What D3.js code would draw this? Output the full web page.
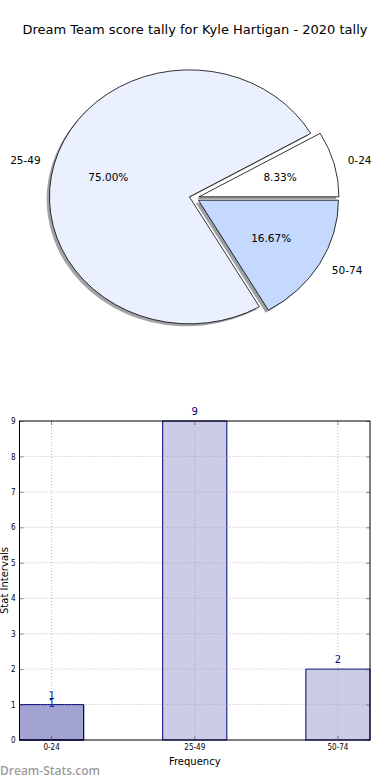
<!DOCTYPE html>
<meta charset="utf-8">
<style>
    body { margin: 0; background: #fff; }
    text { font-family: "DejaVu Sans", sans-serif; fill: #000; }
    .grid line { stroke: #a0a0a0; stroke-width: 0.7; stroke-dasharray: 1,2; }
    .axis text { font-size: 8px; font-family: "DejaVu Sans Condensed", "DejaVu Sans", sans-serif; }
    .axis line { stroke: #444; stroke-width: 0.6; }
    .axis path { display: none; }
</style>
<svg id="chart" width="390" height="780"></svg>
<script src="https://d3js.org/d3.v7.min.js"></script>
<script>

    var titleText = "Dream Team score tally for Kyle Hartigan - 2020 tally";
    var categories = ["0-24", "25-49", "50-74"];
    var counts = [1, 9, 2];
    var sliceColors = ["#ffffff", "#eaf0fe", "#c5d9fe"];
    // the first bar is drawn a second time in the original
    var overlayCategories = ["0-24"];
    var overlayCounts = [1];
    var yTicks = [0, 1, 2, 3, 4, 5, 6, 7, 8, 9];

    var svg = d3.select("#chart");

    svg.append("text")
        .attr("x", 195).attr("y", 34)
        .attr("text-anchor", "middle")
        .style("font-size", "13px")
        .text(titleText);

    // ---- pie ----
    var cx = 194.2, cy = 198, rx = 140, ry = 127, ex = 0.035;

    var pie = d3.pie().sort(null)
        .startAngle(Math.PI / 2)
        .endAngle(Math.PI / 2 - 2 * Math.PI);
    var arcs = pie(counts);
    var total = d3.sum(counts);
    var arcGen = d3.arc().innerRadius(0).outerRadius(1);

    arcs.forEach(function(d, i) {
        var a = (d.startAngle + d.endAngle) / 2;
        d.mx = Math.sin(a);
        d.my = -Math.cos(a);
        d.ox = cx + d.mx * ex * rx;
        d.oy = cy + d.my * ex * ry;
        d.color = sliceColors[i];
        d.label = categories[i];
    });

    var pieG = svg.append("g");

    pieG.selectAll("path.shadow")
        .data(arcs)
        .enter().append("path")
        .attr("class", "shadow")
        .attr("transform", function(d) {
            return "translate(" + (d.ox - 2.8) + "," + (d.oy + 2.5) + ") scale(" + rx + "," + ry + ")";
        })
        .attr("d", arcGen)
        .attr("fill", function(d) {
            var c = d3.rgb(d.color);
            return d3.rgb(c.r * 0.3, c.g * 0.3, c.b * 0.3);
        })
        .attr("fill-opacity", 0.5);

    pieG.selectAll("path.wedge")
        .data(arcs)
        .enter().append("path")
        .attr("class", "wedge")
        .attr("transform", function(d) {
            return "translate(" + d.ox + "," + d.oy + ") scale(" + rx + "," + ry + ")";
        })
        .attr("d", arcGen)
        .attr("fill", function(d) { return d.color; })
        .attr("stroke", "#000")
        .attr("stroke-width", 0.8)
        .attr("vector-effect", "non-scaling-stroke");

    pieG.selectAll("text.pct")
        .data(arcs)
        .enter().append("text")
        .attr("x", function(d) { return d.ox + d.mx * 0.6 * rx; })
        .attr("y", function(d) { return d.oy + d.my * 0.6 * ry; })
        .attr("dy", "0.35em")
        .attr("text-anchor", "middle")
        .style("font-size", "10.5px")
        .text(function(d) { return d3.format(".2f")(d.value / total * 100) + "%"; });

    pieG.selectAll("text.lbl")
        .data(arcs)
        .enter().append("text")
        .attr("x", function(d) { return d.ox + d.mx * 1.1 * rx; })
        .attr("y", function(d) { return d.oy + d.my * 1.1 * ry; })
        .attr("dy", "0.35em")
        .attr("text-anchor", function(d) { return d.mx > 0 ? "start" : "end"; })
        .style("font-size", "10.5px")
        .text(function(d) { return d.label; });

    // ---- bars ----
    var plotLeft = 19.5, plotRight = 370, plotTop = 421, plotBottom = 740;

    var x = d3.scaleBand().domain(categories)
        .range([plotLeft, plotRight])
        .paddingInner(0.552).paddingOuter(0);
    var y = d3.scaleLinear().domain([0, 9]).range([plotBottom, plotTop]);

    var barG = svg.append("g");

    function drawBars(cats, vals, labelDy) {
        var data = cats.map(function(c, i) { return {cat: c, value: vals[i]}; });
        barG.append("g").selectAll("rect")
            .data(data)
            .enter().append("rect")
            .attr("x", function(d) { return x(d.cat); })
            .attr("y", function(d) { return y(d.value); })
            .attr("width", x.bandwidth())
            .attr("height", function(d) { return y(0) - y(d.value); })
            .attr("fill", "#000080")
            .attr("fill-opacity", 0.2)
            .attr("stroke", "#000080")
            .attr("stroke-width", 1);
        barG.append("g").selectAll("text")
            .data(data)
            .enter().append("text")
            .attr("x", function(d) { return x(d.cat) + x.bandwidth() / 2; })
            .attr("y", function(d) { return y(d.value) + labelDy; })
            .attr("text-anchor", "middle")
            .style("font-size", "10px")
            .style("fill", "#000080")
            .text(function(d) { return d.value; });
    }

    drawBars(categories, counts, -6);
    drawBars(overlayCategories, overlayCounts, 2.5);

    // grid on top of bars
    var grid = svg.append("g").attr("class", "grid");
    grid.selectAll("line.h")
        .data(yTicks.slice(1, -1))
        .enter().append("line")
        .attr("x1", plotLeft).attr("x2", plotRight)
        .attr("y1", function(d) { return y(d); })
        .attr("y2", function(d) { return y(d); });
    grid.selectAll("line.v")
        .data(categories)
        .enter().append("line")
        .attr("x1", function(d) { return x(d) + x.bandwidth() / 2; })
        .attr("x2", function(d) { return x(d) + x.bandwidth() / 2; })
        .attr("y1", plotTop).attr("y2", plotBottom);

    svg.append("g").attr("class", "axis")
        .attr("transform", "translate(" + plotLeft + ",0)")
        .call(d3.axisLeft(y).tickValues(yTicks).tickSizeInner(-4).tickSizeOuter(0).tickPadding(4));

    svg.append("g").attr("class", "axis")
        .attr("transform", "translate(" + plotRight + ",0)")
        .call(d3.axisRight(y).tickValues(yTicks).tickSizeInner(-4).tickSizeOuter(0).tickFormat(""));

    svg.append("g").attr("class", "axis")
        .attr("transform", "translate(0," + plotBottom + ")")
        .call(d3.axisBottom(x).tickSizeInner(-4).tickSizeOuter(0).tickPadding(4));

    svg.append("g").attr("class", "axis")
        .attr("transform", "translate(0," + plotTop + ")")
        .call(d3.axisTop(x).tickSizeInner(-4).tickSizeOuter(0).tickFormat(""));

    svg.append("rect")
        .attr("x", plotLeft).attr("y", plotTop)
        .attr("width", plotRight - plotLeft).attr("height", plotBottom - plotTop)
        .attr("fill", "none")
        .attr("stroke", "#000")
        .attr("stroke-width", 1);

    svg.append("text")
        .attr("x", (plotLeft + plotRight) / 2).attr("y", 765)
        .attr("text-anchor", "middle")
        .style("font-size", "10px")
        .text("Frequency");

    svg.append("text")
        .attr("transform", "translate(7.5," + ((plotTop + plotBottom) / 2) + ") rotate(-90)")
        .attr("text-anchor", "middle")
        .style("font-size", "10px")
        .text("Stat Intervals");

    svg.append("text")
        .attr("x", 0).attr("y", 775)
        .style("font-family", "'Open Sans', sans-serif")
        .style("font-size", "12px")
        .style("font-weight", "600")
        .style("fill", "#9c9c9c")
        .text("Dream-Stats.com");

</script>
